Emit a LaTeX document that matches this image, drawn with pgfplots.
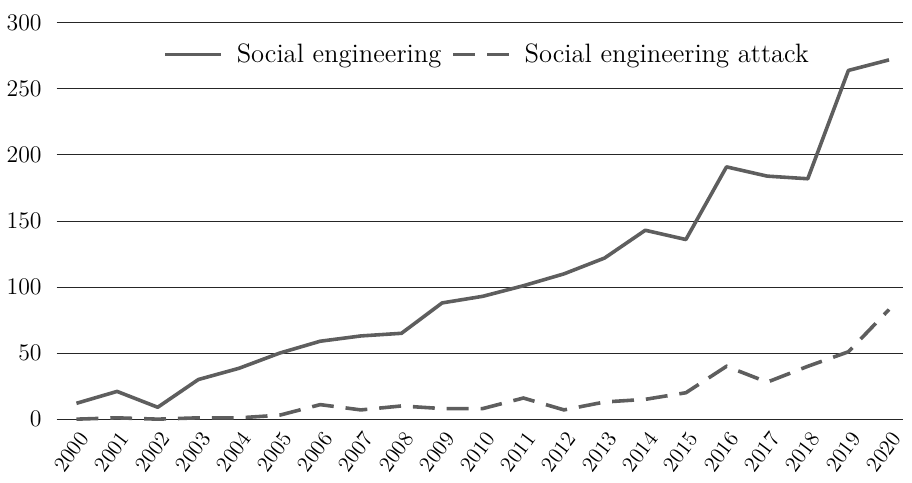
\documentclass[border=0pt]{standalone}
\usepackage{pgfplots}
\pgfplotsset{compat=1.18}
\definecolor{lc}{HTML}{5E5E5E}
\begin{document}
\begin{tikzpicture}
\begin{axis}[
  scale only axis, width=425bp, height=199bp,
  xmin=-0.49, xmax=20.34, ymin=0, ymax=300,
  ytick={0,50,100,150,200,250,300},
  xtick={0,...,20},
  xticklabels={2000,2001,2002,2003,2004,2005,2006,2007,2008,2009,2010,2011,2012,2013,2014,2015,2016,2017,2018,2019,2020},
  ymajorgrids, grid style={black!85, line width=0.5bp},
  axis line style={draw=none},
  major tick length=0pt,
  clip=false,
  yticklabel style={font=\fontsize{12.5}{14}\selectfont, xshift=-4bp},
  xticklabel style={font=\fontsize{11}{13}\selectfont, xshift=6bp, yshift=-5bp, rotate=53, anchor=east},
  legend columns=2,
  legend style={at={(0.51,0.92)}, anchor=center, draw=none, fill=none,
    font=\fontsize{13.4}{15}\selectfont,
    /tikz/every odd column/.append style={column sep=5bp},
    /tikz/every even column/.append style={column sep=3bp}},
  legend image code/.code={\draw[#1] (0bp,0bp) -- (28bp,0bp);},
]
\addplot[lc, line width=1.8bp, line join=round] coordinates {
(0,12) (1,21) (2,9) (3,30) (4,38.5) (5,50) (6,59) (7,63) (8,65) (9,88) (10,93)
(11,101) (12,110) (13,122) (14,143) (15,136) (16,191) (17,184) (18,182) (19,264) (20,272)};
\addlegendentry{Social engineering}
\addplot[lc, line width=1.8bp, dash pattern=on 11bp off 6bp] coordinates {
(0,0) (1,1) (2,0) (3,1) (4,1) (5,3) (6,11) (7,7) (8,10) (9,8) (10,8)
(11,16) (12,7) (13,13) (14,15) (15,20) (16,40) (17,28) (18,40) (19,51) (20,83)};
\addlegendentry{Social engineering attack}
\path (rel axis cs:0,1) -- ++(0,11.5bp);
\end{axis}
\end{tikzpicture}
\end{document}
